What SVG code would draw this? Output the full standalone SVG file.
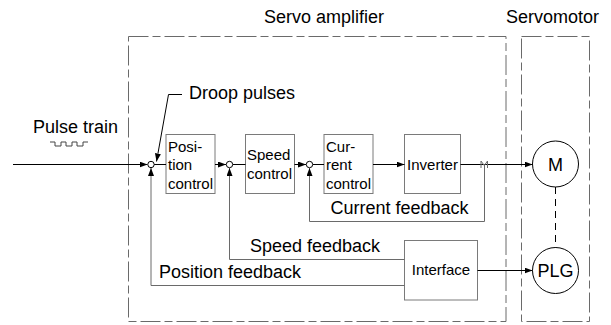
<svg xmlns="http://www.w3.org/2000/svg" width="611" height="325" viewBox="0 0 611 325">
<style>
text{font-family:"Liberation Sans",Arial,sans-serif;fill:#000}
.lbl{font-size:18px}
.sm{font-size:15px}
.box{fill:#fff;stroke:#7a7a7a;stroke-width:1}
.dash{fill:none;stroke:#6a6a6a;stroke-width:1;stroke-dasharray:20 4 8 4}
.fw{fill:none;stroke:#000;stroke-width:1}
.fb{fill:none;stroke:#6a6a6a;stroke-width:1}
.sj{fill:#fff;stroke:#000;stroke-width:1}
</style>
<defs>
<marker id="ah" viewBox="0 0 8 6" refX="8" refY="3" markerWidth="8" markerHeight="6" markerUnits="userSpaceOnUse" orient="auto">
<path d="M0,0 L8,3 L0,6 Z" fill="#000"/>
</marker>
</defs>

<g id="titles">
<text class="lbl" x="264" y="23">Servo amplifier</text>
<text class="lbl" x="506" y="23">Servomotor</text>
</g>

<g id="servo-amplifier">
<rect class="dash" x="128.5" y="36.5" width="377.5" height="285"/>
</g>
<g id="servomotor">
<rect class="dash" x="521.5" y="36.5" width="68" height="285"/>
</g>

<g id="pulse-train">
<text class="lbl" x="33" y="132.5">Pulse train</text>
<path d="M50,142 H55 V146 H61 V142 H66 V146 H72 V142 H77 V146 H83 V142 H88" fill="none" stroke="#444" stroke-width="1"/>
</g>

<g id="droop-pulses">
<text class="lbl" x="189" y="99">Droop pulses</text>
</g>

<g id="position-control">
<rect class="box" x="166" y="134.5" width="49" height="59"/>
<text class="sm" x="168" y="151.5">Posi-</text>
<text class="sm" x="168" y="170">tion</text>
<text class="sm" x="168" y="188.5">control</text>
</g>

<g id="speed-control">
<rect class="box" x="245.5" y="134.5" width="49" height="59"/>
<text class="sm" x="247" y="160">Speed</text>
<text class="sm" x="247" y="178.5">control</text>
</g>

<g id="current-control">
<rect class="box" x="324" y="134.5" width="49" height="59"/>
<text class="sm" x="326" y="151.5">Cur-</text>
<text class="sm" x="326" y="170">rent</text>
<text class="sm" x="326" y="188.5">control</text>
</g>

<g id="inverter">
<rect class="box" x="404.5" y="134.5" width="56" height="59"/>
<text class="sm" x="432.5" y="170" text-anchor="middle">Inverter</text>
</g>

<g id="interface">
<rect class="box" x="404.5" y="240.5" width="73" height="59.5"/>
<text class="sm" x="441" y="275" text-anchor="middle">Interface</text>
</g>

<g id="motor">
<circle cx="555.5" cy="164" r="23" fill="#fff" stroke="#000" stroke-width="1"/>
<text class="lbl" x="555.5" y="170.5" text-anchor="middle">M</text>
</g>

<g id="plg">
<circle cx="555.5" cy="270.5" r="23" fill="#fff" stroke="#000" stroke-width="1"/>
<text class="lbl" x="555.5" y="277" text-anchor="middle">PLG</text>
</g>

<g id="feedback-labels">
<text class="lbl" x="330.5" y="214">Current feedback</text>
<text class="lbl" x="250" y="251.5">Speed feedback</text>
<text class="lbl" x="159" y="277.5">Position feedback</text>
</g>

<g id="connectors">
<!-- forward path -->
<line class="fw" x1="13" y1="164.5" x2="147.5" y2="164.5" marker-end="url(#ah)"/>
<line class="fw" x1="154" y1="164.5" x2="166" y2="164.5"/>
<line class="fw" x1="215" y1="164.5" x2="226" y2="164.5" marker-end="url(#ah)"/>
<line class="fw" x1="232.5" y1="164.5" x2="245.5" y2="164.5"/>
<line class="fw" x1="294.5" y1="164.5" x2="306" y2="164.5" marker-end="url(#ah)"/>
<line class="fw" x1="312.5" y1="164.5" x2="324" y2="164.5"/>
<line class="fw" x1="373" y1="164.5" x2="404.5" y2="164.5" marker-end="url(#ah)"/>
<line class="fw" x1="460.5" y1="164.5" x2="532.5" y2="164.5" marker-end="url(#ah)"/>
<line class="fw" x1="477.5" y1="270.5" x2="532.5" y2="270.5" marker-end="url(#ah)"/>
<!-- droop pulses leader -->
<path class="fw" d="M182,94.5 H168.5 L156.5,161.5" marker-end="url(#ah)"/>
<!-- current detector -->
<path d="M481,168 V161 L484.3,165.5 L487.5,161 V168" fill="none" stroke="#6a6a6a" stroke-width="1"/>
<!-- feedback paths -->
<path class="fb" d="M484.5,164.5 V221.5 H309.5 V168" marker-end="url(#ah)"/>
<path class="fb" d="M404.5,259.5 H229.5 V168" marker-end="url(#ah)"/>
<path class="fb" d="M404.5,285.5 H151 V168" marker-end="url(#ah)"/>
<!-- motor to PLG shaft -->
<line x1="555.5" y1="187" x2="555.5" y2="247.5" stroke="#000" stroke-width="1" stroke-dasharray="7 5"/>
<!-- summing junctions -->
<circle class="sj" cx="151" cy="164.5" r="3.2"/>
<circle class="sj" cx="229.5" cy="164.5" r="3.2"/>
<circle class="sj" cx="309.5" cy="164.5" r="3.2"/>
</g>
</svg>
